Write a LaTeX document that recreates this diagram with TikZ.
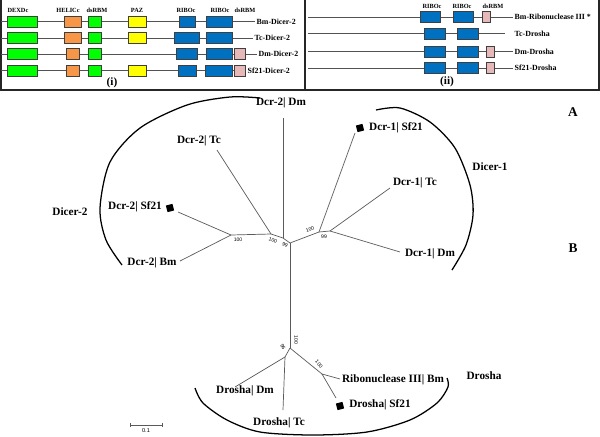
\documentclass[tikz,border=0pt]{standalone}
\usepackage{fontspec}
\setmainfont{Liberation Serif}
\setsansfont{Liberation Sans}
\usepackage{tikz}
\usetikzlibrary{
  positioning,
  arrows.meta
}
\definecolor{domgreen}{HTML}{00FF00}
\definecolor{domorange}{HTML}{F79646}
\definecolor{domyellow}{HTML}{FFFF00}
\definecolor{domblue}{HTML}{0070C0}
\definecolor{dompink}{HTML}{E6B9B8}
\definecolor{domedge}{HTML}{3F3F3F}
\definecolor{branchgray}{HTML}{5A5A5A}
\tikzset{
  domain/.style={
    rectangle, draw=domedge, fill=#1, line width=0.6pt,
    minimum height=0.275cm, inner sep=0pt
  },
  domain/.default=domgreen,
  backbone/.style={draw=domedge!90, line width=0.55pt},
  frame/.style={draw=black!85, line width=1pt},
  domlabel/.style={font=\fontsize{4.5}{5}\selectfont\bfseries, inner sep=0pt},
  rowlabel/.style={font=\fontsize{5.6}{6.5}\selectfont\bfseries, inner sep=1pt, anchor=west},
  panellabel/.style={font=\fontsize{8}{9}\selectfont\bfseries, inner sep=0pt},
  branch/.style={draw=branchgray, line width=0.5pt},
  clade/.style={draw=black, line width=0.9pt},
  leaf/.style={font=\fontsize{8}{9.6}\selectfont\bfseries, inner sep=0pt},
  boot/.style={font=\sffamily\fontsize{3.6}{4}\selectfont, inner sep=0pt},
  marker/.style={rectangle, fill=black, minimum size=0.17cm, inner sep=0pt, rotate=15},
}
\begin{document}
\begin{tikzpicture}[x=0.025cm, y=-0.025cm]

\useasboundingbox (0,0) rectangle (600,436);

% Domain panels
\draw[frame] (1,0) -- (1,90) -- (599,90) -- (599,0);
\draw[frame] (305,0) -- (305,90);

% Panel (i): Dicer-2
\node[domlabel] (hdexd) at (18,10) {DEXDc};
\node[domlabel] (hhelic) at (68,10) {HELICc};
\node[domlabel] (hdsa) at (97,10) {dsRBM};
\node[domlabel] (hpaz) at (137,10) {PAZ};
\node[domlabel] (hriba) at (186,10) {RIBOc};
\node[domlabel] (hribb) at (220,10) {RIBOc};
\node[domlabel] (hdsb) at (245,10) {dsRBM};

\coordinate (ra) at (1,21.5);
\node[rowlabel] (bmdcr) at (255,21.5) {Bm-Dicer-2};
\draw[backbone] (ra) -- (bmdcr.west);
\node[domain=domgreen, minimum width=0.75cm] (ra1) at (22,21.5) {};
\node[domain=domorange, minimum width=0.425cm] (ra2) at (72.5,21.5) {};
\node[domain=domgreen, minimum width=0.325cm] (ra3) at (94.5,21.5) {};
\node[domain=domyellow, minimum width=0.45cm] (ra4) at (137,21.5) {};
\node[domain=domblue, minimum width=0.4cm] (ra5) at (187,21.5) {};
\node[domain=domblue, minimum width=0.65cm] (ra6) at (219,21.5) {};

\coordinate (rb) at (1,38);
\node[rowlabel] (tcdcr) at (253,38) {Tc-Dicer-2};
\draw[backbone] (rb) -- (tcdcr.west);
\node[domain=domgreen, minimum width=0.75cm] (rb1) at (22,38) {};
\node[domain=domorange, minimum width=0.425cm] (rb2) at (72.5,38) {};
\node[domain=domgreen, minimum width=0.325cm] (rb3) at (94.5,38) {};
\node[domain=domyellow, minimum width=0.45cm] (rb4) at (137,38) {};
\node[domain=domblue, minimum width=0.625cm] (rb5) at (186.5,38) {};
\node[domain=domblue, minimum width=0.65cm] (rb6) at (219,38) {};

\coordinate (rc) at (1,54);
\node[rowlabel] (dmdcr) at (257,54) {Dm-Dicer-2};
\draw[backbone] (rc) -- (dmdcr.west);
\node[domain=domgreen, minimum width=0.75cm] (rc1) at (22,54) {};
\node[domain=domorange, minimum width=0.325cm] (rc2) at (72.5,54) {};
\node[domain=domgreen, minimum width=0.325cm] (rc3) at (94.5,54) {};
\node[domain=domblue, minimum width=0.525cm] (rc5) at (186.5,54) {};
\node[domain=domblue, minimum width=0.65cm] (rc6) at (219,54) {};
\node[domain=dompink, minimum width=0.275cm] (rc7) at (239.5,54) {};

\coordinate (rd) at (1,70.5);
\node[rowlabel] (sfdcr) at (246,70.5) {Sf21-Dicer-2};
\draw[backbone] (rd) -- (sfdcr.west);
\node[domain=domgreen, minimum width=0.75cm] (rd1) at (22,70.5) {};
\node[domain=domorange, minimum width=0.325cm] (rd2) at (72.5,70.5) {};
\node[domain=domgreen, minimum width=0.325cm] (rd3) at (94.5,70.5) {};
\node[domain=domyellow, minimum width=0.45cm] (rd4) at (137,70.5) {};
\node[domain=domblue, minimum width=0.45cm] (rd5) at (187,70.5) {};
\node[domain=domblue, minimum width=0.675cm] (rd6) at (218.5,70.5) {};
\node[domain=dompink, minimum width=0.275cm] (rd7) at (239.5,70.5) {};

\node[panellabel] (pi) at (112,83) {(i)};

% Panel (ii): Drosha
\node[domlabel] (hribc) at (432,6) {RIBOc};
\node[domlabel] (hribd) at (462,6) {RIBOc};
\node[domlabel] (hdsc) at (493,6) {dsRBM};

\coordinate (re) at (308,17);
\node[rowlabel] (bmrnase) at (513,17) {Bm-Ribonuclease III *};
\draw[backbone] (re) -- (bmrnase.west);
\node[domain=domblue, minimum width=0.5cm] (re1) at (430,17) {};
\node[domain=domblue, minimum width=0.5cm] (re2) at (463,17) {};
\node[domain=dompink, minimum width=0.2cm] (re3) at (486,17) {};

\coordinate (rf) at (308,33.5);
\coordinate (rfe) at (505,33.5);
\node[rowlabel] (tcdro) at (513,33.5) {Tc-Drosha};
\draw[backbone] (rf) -- (rfe);
\node[domain=domblue, minimum width=0.525cm] (rf1) at (434.5,33.5) {};
\node[domain=domblue, minimum width=0.525cm] (rf2) at (467.5,33.5) {};

\coordinate (rg) at (308,51.5);
\node[rowlabel] (dmdro) at (513,51.5) {Dm-Drosha};
\draw[backbone] (rg) -- (dmdro.west);
\node[domain=domblue, minimum width=0.525cm] (rg1) at (434.5,51.5) {};
\node[domain=domblue, minimum width=0.525cm] (rg2) at (467.5,51.5) {};
\node[domain=dompink, minimum width=0.2cm] (rg3) at (490,51.5) {};

\coordinate (rh) at (308,68);
\node[rowlabel] (sfdro) at (513,68) {Sf21-Drosha};
\draw[backbone] (rh) -- (sfdro.west);
\node[domain=domblue, minimum width=0.525cm] (rh1) at (434.5,68) {};
\node[domain=domblue, minimum width=0.525cm] (rh2) at (467.5,68) {};
\node[domain=dompink, minimum width=0.2cm] (rh3) at (490,68) {};

\node[panellabel] (pii) at (447,82) {(ii)};

% Tree: junctions
\coordinate (root) at (290,243);
\coordinate (jd2) at (283,238);
\coordinate (jd2b) at (271,234);
\coordinate (jd2c) at (231,235);
\coordinate (jd1) at (319,232);
\coordinate (jd1b) at (330,231);
\coordinate (jdro) at (290,348);
\coordinate (jdrob) at (285,357);
\coordinate (jdroc) at (322,374);

% Tree: tips
\coordinate (t2dm) at (283,118);
\coordinate (t2tc) at (217,150);
\coordinate (t2sf) at (178,212);
\coordinate (t2bm) at (180,261);
\coordinate (t1sf) at (355,133);
\coordinate (t1tc) at (390,188);
\coordinate (t1dm) at (400,252);
\coordinate (tddm) at (235,387);
\coordinate (tdtc) at (283,410);
\coordinate (tdbm) at (340,379);
\coordinate (tdsf) at (336,398);

% Branches
\draw[branch] (root) -- (jd2) -- (jd2b) -- (jd2c);
\draw[branch] (jd2) -- (t2dm);
\draw[branch] (jd2b) -- (t2tc);
\draw[branch] (jd2c) -- (t2sf);
\draw[branch] (jd2c) -- (t2bm);
\draw[branch] (root) -- (jd1) -- (jd1b);
\draw[branch] (jd1) -- (t1sf);
\draw[branch] (jd1b) -- (t1tc);
\draw[branch] (jd1b) -- (t1dm);
\draw[branch] (root) -- (jdro);
\draw[branch] (jdro) -- (jdrob);
\draw[branch] (jdrob) -- (tddm);
\draw[branch] (jdrob) -- (tdtc);
\draw[branch] (jdro) -- (jdroc);
\draw[branch] (jdroc) -- (tdbm);
\draw[branch] (jdroc) -- (tdsf);

% Leaf labels
\node[leaf] (l2dm) at (281,103) {Dcr-2| Dm};
\node[leaf] (l2tc) at (199,141) {Dcr-2| Tc};
\node[leaf] (l2sf) at (135,207) {Dcr-2| Sf21};
\node[leaf] (l2bm) at (152,263) {Dcr-2| Bm};
\node[leaf] (l1sf) at (396,128) {Dcr-1| Sf21};
\node[leaf] (l1tc) at (415,183) {Dcr-1| Tc};
\node[leaf] (l1dm) at (430,254) {Dcr-1| Dm};
\node[leaf] (lddm) at (245,391) {Drosha| Dm};
\node[leaf] (ldtc) at (279,423) {Drosha| Tc};
\node[leaf] (ldbm) at (393,380) {Ribonuclease III| Bm};
\node[leaf] (ldsf) at (380,405) {Drosha| Sf21};

% Sf21 markers
\node[marker] (m2sf) at (170,208) {};
\node[marker] (m1sf) at (360,128) {};
\node[marker] (mdsf) at (340,406) {};

% Bootstrap values
\node[boot] (b1) at (238,240) {100};
\node[boot, rotate=-20] (b2) at (273,240) {100};
\node[boot, rotate=-20] (b3) at (285,245) {99};
\node[boot, rotate=20] (b4) at (310,229) {100};
\node[boot] (b5) at (324,237) {99};
\node[boot, rotate=-90] (b6) at (296,340) {100};
\node[boot, rotate=-60] (b7) at (283,347) {96};
\node[boot, rotate=-50] (b8) at (319,364) {100};

% Clades
\draw[clade] plot[smooth] coordinates {(260,98) (230,97) (187,105) (140,128) (110,162) (100,208) (106,240) (122,265)};
\draw[clade] plot[smooth] coordinates {(376,110) (400,108) (430,122) (455,148) (470,185) (473,215) (466,245) (452,270)};
\draw[clade] plot[smooth] coordinates {(195,388) (203,403) (227,420) (260,432) (313,435) (367,432) (410,420) (437,403) (448,387) (447,378)};
\node[leaf] (cd2) at (70,212) {Dicer-2};
\node[leaf] (cd1) at (490,167) {Dicer-1};
\node[leaf] (cdro) at (484,376) {Drosha};

\node[leaf, font=\fontsize{9.5}{11}\selectfont\bfseries] (pa) at (573,112) {A};
\node[leaf, font=\fontsize{9.5}{11}\selectfont\bfseries] (pb) at (573,248) {B};

% Scale bar
\coordinate (sba) at (130,425);
\coordinate (sbb) at (163,425);
\draw[branch, {Bar[width=3pt]}-{Bar[width=3pt]}] (sba) -- (sbb);
\node[boot, font=\sffamily\fontsize{4}{5}\selectfont] (sbl) at (146,431) {0.1};

\end{tikzpicture}
\end{document}
